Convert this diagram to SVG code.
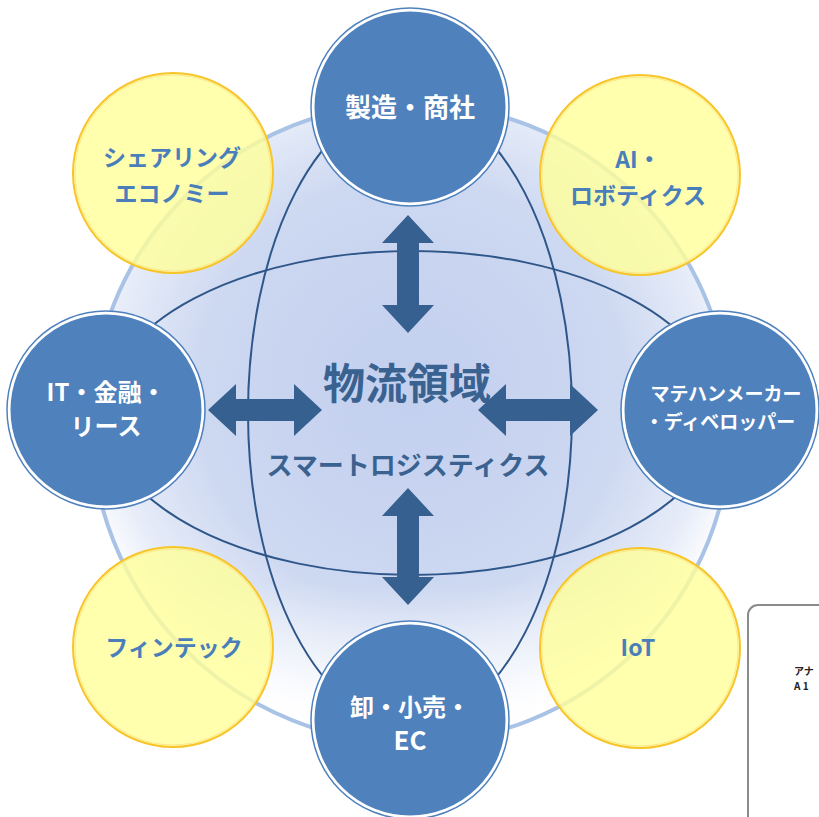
<svg xmlns="http://www.w3.org/2000/svg" width="819" height="817" viewBox="0 0 819 817">
<defs>
<radialGradient id="sphere" cx="0.5" cy="0.45" r="0.55">
<stop offset="0" stop-color="#c2cfee"/>
<stop offset="0.6" stop-color="#cdd8f1"/>
<stop offset="0.85" stop-color="#e6ecf8"/>
<stop offset="0.95" stop-color="#fafbfe"/>
<stop offset="1" stop-color="#ffffff"/>
</radialGradient>
<linearGradient id="glow" x1="0" y1="0" x2="0" y2="1">
<stop offset="0" stop-color="#ffffff" stop-opacity="0"/>
<stop offset="0.75" stop-color="#ffffff" stop-opacity="0"/>
<stop offset="0.95" stop-color="#ffffff" stop-opacity="0.8"/>
<stop offset="1" stop-color="#ffffff" stop-opacity="0.3"/>
</linearGradient>
<style>
.blue{fill:#4f81bd;stroke:#ffffff;stroke-width:3}
.blueRing{fill:none;stroke:#4f81bd;stroke-width:1.5}
.yellow{fill:#ffff99;fill-opacity:0.8;stroke:#f7c52a;stroke-width:2}
.yellowIn{fill:none;stroke:#fde68a;stroke-width:1}
.wt{font-family:"Noto Sans CJK JP","Noto Sans",sans-serif;font-weight:bold;fill:#ffffff;text-anchor:middle}
.yt{font-family:"Noto Sans CJK JP","Noto Sans",sans-serif;font-weight:bold;fill:#4a7ebb;text-anchor:middle;font-size:23px}
.ct{font-family:"Noto Sans CJK JP","Noto Sans",sans-serif;font-weight:bold;fill:#3a6291;text-anchor:middle}
.ell{fill:none;stroke:#2e5689;stroke-width:2}
.arrow{fill:#36608f}
.small{font-family:"Noto Sans CJK JP",sans-serif;font-weight:bold;font-size:10px;fill:#222222}
</style>
</defs>
<rect width="819" height="817" fill="#ffffff"/>
<g id="background">
<circle cx="411" cy="423" r="320" fill="url(#sphere)" stroke="#a9c3e6" stroke-width="4"/>
<circle cx="411" cy="423" r="318" fill="url(#glow)"/>
</g>
<g id="connectors">
<ellipse class="ell" cx="410" cy="413" rx="162" ry="312"/>
<ellipse class="ell" cx="412" cy="413" rx="308" ry="162"/>
<polygon class="arrow" points="408,215 434,243 419,243 419,305 434,305 408,333 382,305 397,305 397,243 382,243"/>
<polygon class="arrow" points="408,488 434,516 419,516 419,577 434,577 408,605 382,577 397,577 397,516 382,516"/>
<polygon class="arrow" points="208,410 236,384 236,399 294,399 294,384 322,410 294,436 294,421 236,421 236,436"/>
<polygon class="arrow" points="478,410 506,384 506,399 570,399 570,384 598,410 570,436 570,421 506,421 506,436"/>
</g>
<g id="center">
<text class="ct" x="407" y="399" font-size="42">物流領域</text>
<text class="ct" x="408" y="475" font-size="26">スマートロジスティクス</text>
</g>
<g id="node-seizo">
<circle class="blue" cx="410" cy="107" r="97"/>
<circle class="blueRing" cx="410" cy="107" r="99"/>
<text class="wt" x="410" y="117" font-size="26">製造・商社</text>
</g>
<g id="node-it">
<circle class="blue" cx="106" cy="410" r="97"/>
<circle class="blueRing" cx="106" cy="410" r="99"/>
<text class="wt" x="106" y="401" font-size="24">IT・金融・</text>
<text class="wt" x="106" y="435" font-size="24">リース</text>
</g>
<g id="node-matehan">
<circle class="blue" cx="720" cy="410" r="97"/>
<circle class="blueRing" cx="720" cy="410" r="99"/>
<text class="wt" x="726" y="401" font-size="19">マテハンメーカー</text>
<text class="wt" x="720" y="429" font-size="19">・ディベロッパー</text>
</g>
<g id="node-oroshi">
<circle class="blue" cx="410" cy="720" r="97"/>
<circle class="blueRing" cx="410" cy="720" r="99"/>
<text class="wt" x="410" y="716" font-size="24">卸・小売・</text>
<text class="wt" x="410" y="750" font-size="26">EC</text>
</g>
<g id="node-sharing">
<circle class="yellow" cx="173" cy="173" r="100"/>
<circle class="yellowIn" cx="173" cy="173" r="98"/>
<text class="yt" x="172" y="166">シェアリング</text>
<text class="yt" x="172" y="202">エコノミー</text>
</g>
<g id="node-ai">
<circle class="yellow" cx="640" cy="175" r="100"/>
<circle class="yellowIn" cx="640" cy="175" r="98"/>
<text class="yt" x="638" y="168">AI・</text>
<text class="yt" x="638" y="204">ロボティクス</text>
</g>
<g id="node-fintech">
<circle class="yellow" cx="173" cy="647" r="100"/>
<circle class="yellowIn" cx="173" cy="647" r="98"/>
<text class="yt" x="174" y="656">フィンテック</text>
</g>
<g id="node-iot">
<circle class="yellow" cx="640" cy="648" r="100"/>
<circle class="yellowIn" cx="640" cy="648" r="98"/>
<text class="yt" x="638" y="656">IoT</text>
</g>
<g id="side-box">
<rect x="748" y="605" width="100" height="240" rx="10" fill="#ffffff" stroke="#8a8a8a" stroke-width="2"/>
<text class="small" x="794" y="675">アナ</text>
<text class="small" x="794" y="690">A 1</text>
</g>
</svg>
